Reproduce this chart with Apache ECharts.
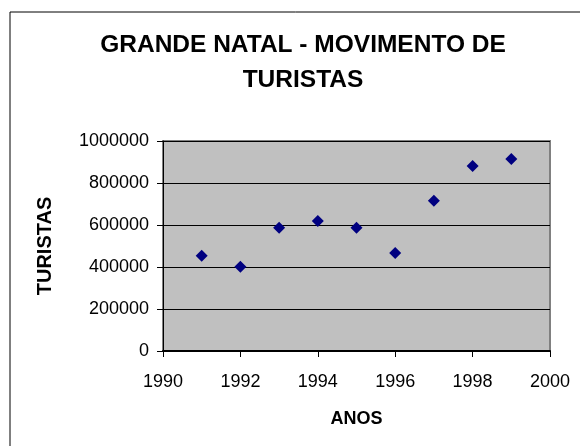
<!DOCTYPE html>
<html>
<head>
<meta charset="utf-8">
<script src="https://cdn.jsdelivr.net/npm/echarts@6/dist/echarts.min.js"></script>
<style>
  html, body { margin: 0; padding: 0; background: #fff; }
  #main { width: 580px; height: 446px; }
</style>
</head>
<body>
<div id="main"></div>
<script>
// dados
const anos = [1991, 1992, 1993, 1994, 1995, 1996, 1997, 1998, 1999];
const turistas = [454000, 401000, 587000, 619000, 587000, 467000, 716000, 881000, 914000];
const xTicks = [1990, 1992, 1994, 1996, 1998, 2000];
const yTicks = [0, 200000, 400000, 600000, 800000, 1000000];

const font = '"Liberation Sans", Arial, sans-serif';

var myChart = echarts.init(document.getElementById('main'));

var option = {
  backgroundColor: '#ffffff',
  animation: false,
  graphic: [
    {
      type: 'rect',
      shape: { x: 10, y: 12, width: 700, height: 600 },
      style: { fill: 'none', stroke: '#000', lineWidth: 1 },
      silent: true
    },
    {
      type: 'text',
      x: 303,
      y: 28,
      style: {
        text: 'GRANDE NATAL - MOVIMENTO DE\nTURISTAS',
        fill: '#000',
        font: 'bold 24.5px ' + font,
        textAlign: 'center',
        lineHeight: 35
      }
    }
  ],
  grid: {
    show: true,
    left: 163,
    right: 30,
    top: 141,
    bottom: 95,
    backgroundColor: '#c0c0c0',
    borderColor: '#808080',
    borderWidth: 2
  },
  xAxis: {
    type: 'value',
    min: xTicks[0],
    max: xTicks[xTicks.length - 1],
    interval: 2,
    name: 'ANOS',
    nameLocation: 'middle',
    nameGap: 59,
    nameTextStyle: { color: '#000', fontFamily: font, fontWeight: 'bold', fontSize: 18 },
    axisLine: { show: true, lineStyle: { color: '#000', width: 2 } },
    axisTick: { show: true, length: 6, lineStyle: { color: '#000' } },
    axisLabel: { color: '#000', fontFamily: font, fontSize: 18, margin: 22, formatter: v => String(v) },
    splitLine: { show: false }
  },
  yAxis: {
    type: 'value',
    min: yTicks[0],
    max: yTicks[yTicks.length - 1],
    interval: 200000,
    name: 'TURISTAS',
    nameLocation: 'middle',
    nameGap: 108,
    nameRotate: 90,
    nameTextStyle: { color: '#000', fontFamily: font, fontWeight: 'bold', fontSize: 20 },
    axisLine: { show: true, lineStyle: { color: '#000', width: 1 } },
    axisTick: { show: true, length: 6, lineStyle: { color: '#000' } },
    axisLabel: { color: '#000', fontFamily: font, fontSize: 18, margin: 14, formatter: v => String(v) },
    splitLine: { show: true, lineStyle: { color: '#000', width: 1 } }
  },
  series: [
    {
      type: 'scatter',
      data: anos.map((a, i) => [a, turistas[i]]),
      symbol: 'diamond',
      symbolSize: 12,
      itemStyle: { color: '#000080', opacity: 1 }
    }
  ]
};
myChart.setOption(option);
</script>
</body>
</html>
